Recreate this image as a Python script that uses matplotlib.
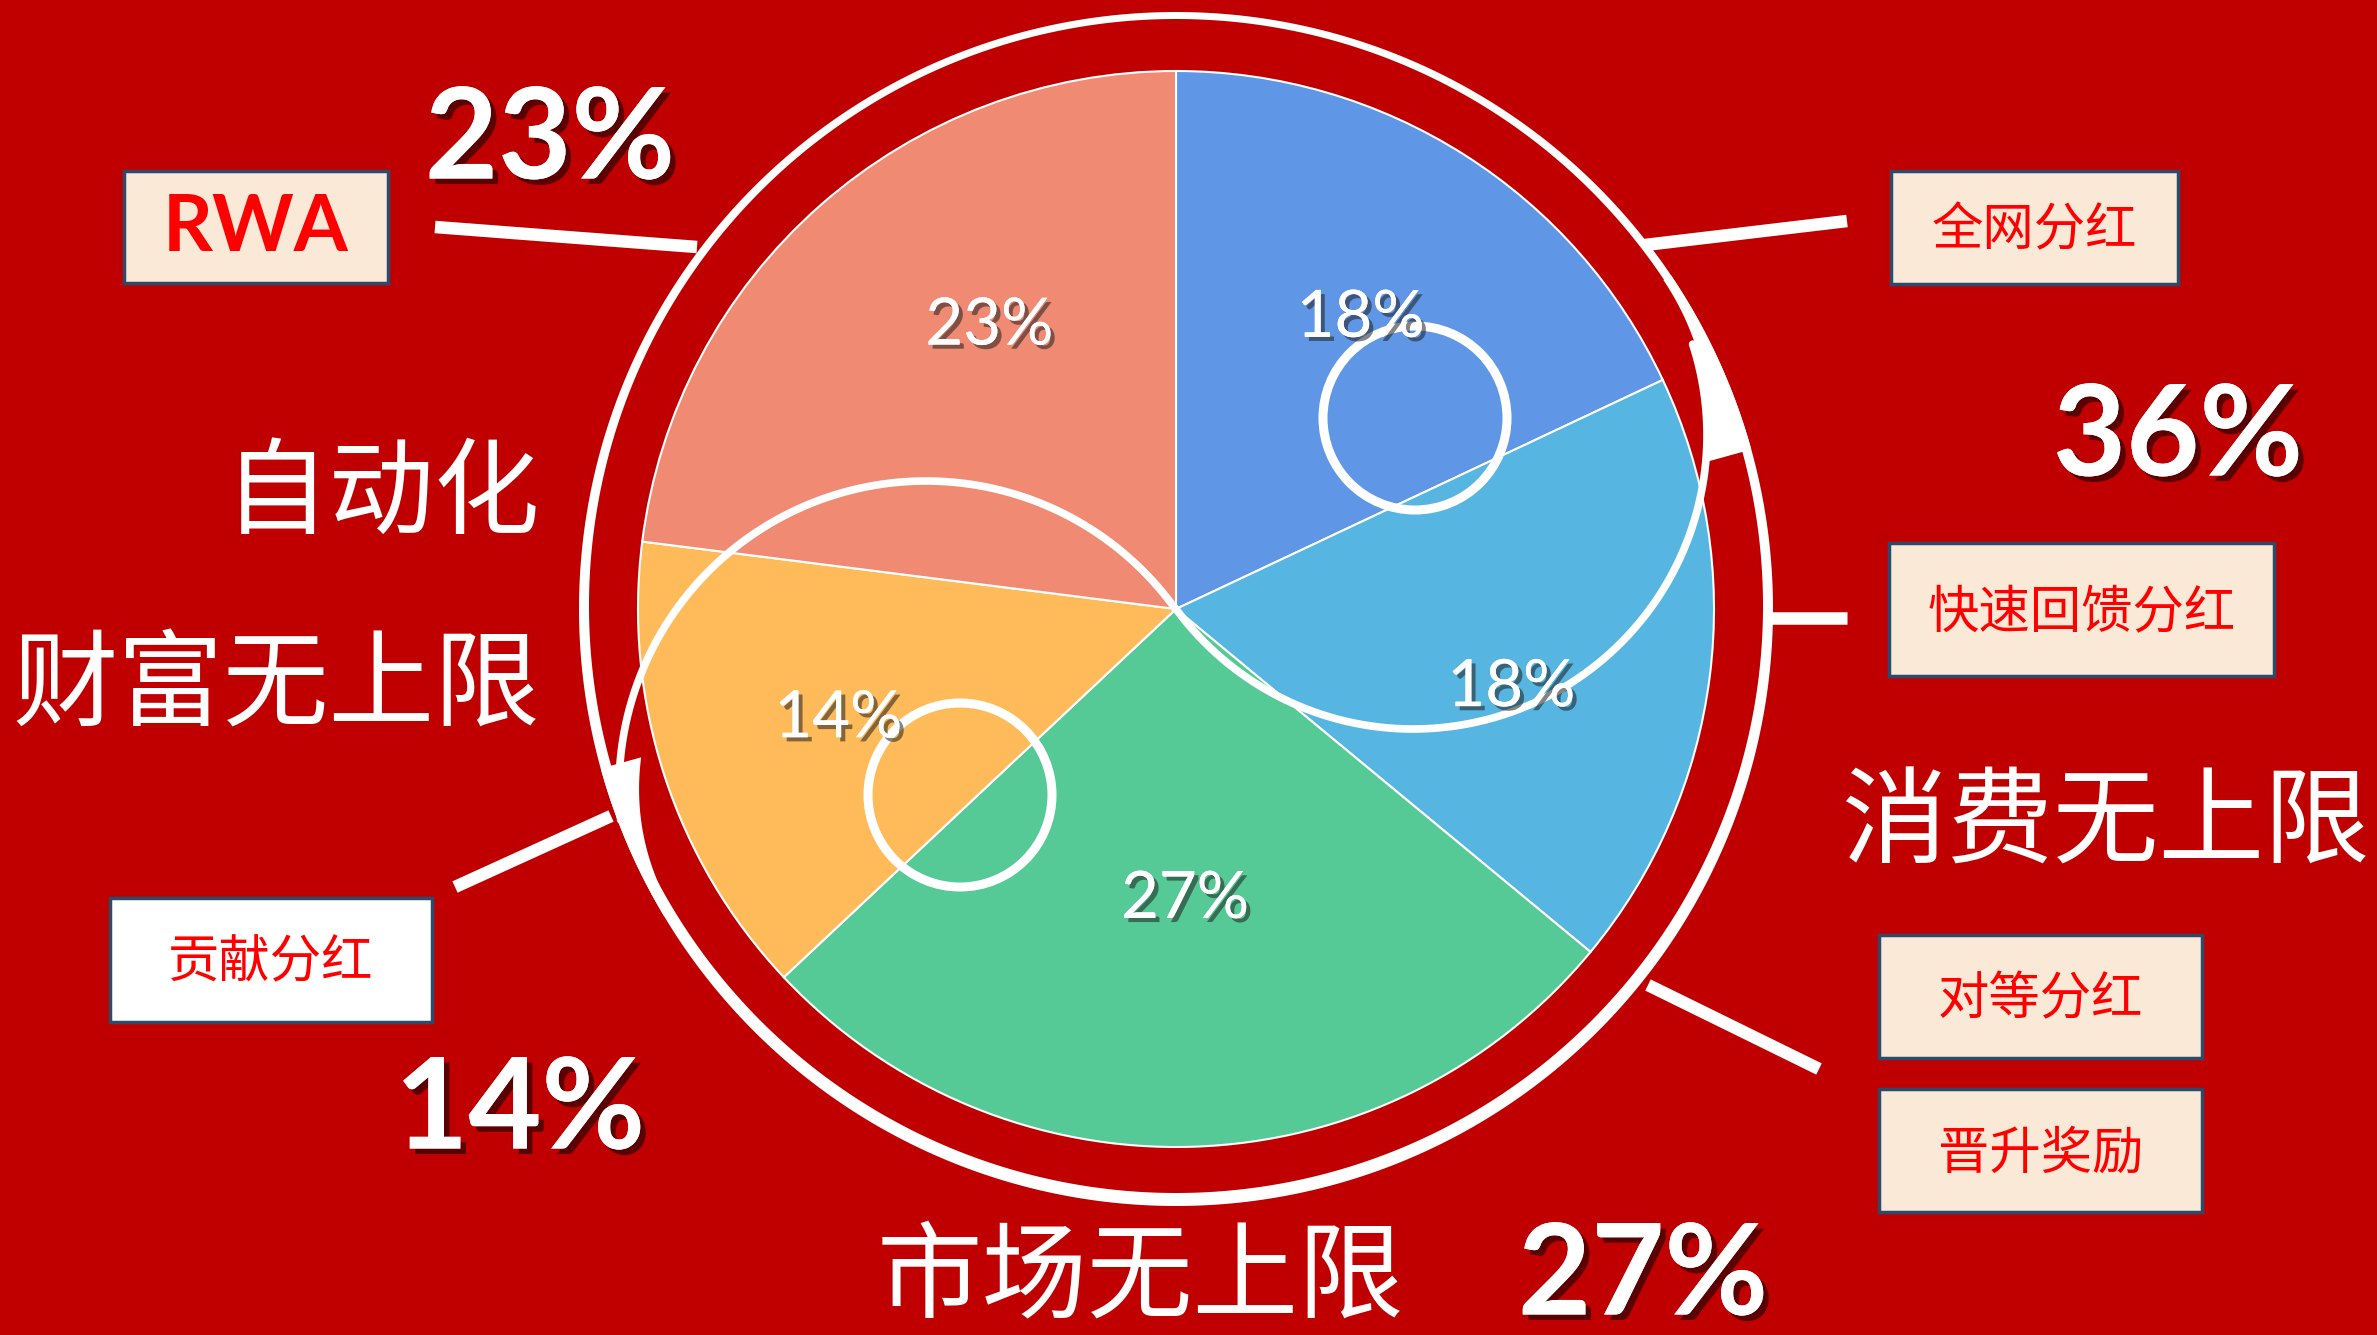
import numpy as np
import matplotlib
matplotlib.use("Agg")
import matplotlib.pyplot as plt
from matplotlib.patches import Rectangle, Circle, Polygon
import matplotlib.patheffects as pe

W, H = 2377, 1335
BG = '#C00000'

# pie slices, clockwise from 12 o'clock
shares = [18, 18, 27, 14, 23]
slice_colors = ['#6096E6', '#57B5E2', '#55C996', '#FFBA5A', '#F08A73']
label_dist = [0.64, 0.64, 0.54, 0.66, 0.63]
label_turn = [0, -6, 0, 0, -8]   # degrees, nudges the in-slice labels

# big percentages around the pie
big_pcts = ['23%', '36%', '14%', '27%']
big_pos = [(550, 142), (2178, 439), (520, 1112), (1643, 1278)]

# slogans
taglines = ['自动化', '财富无上限', '消费无上限', '市场无上限']
tag_pos = [(540, 496, 'right'), (540, 688, 'right'), (1842, 825, 'left'), (877, 1280, 'left')]

# label boxes: text, (x0, y0, x1, y1) in image pixels, face colour
box_labels = ['RWA', '全网分红', '快速回馈分红', '贡献分红', '对等分红', '晋升奖励']
box_rects = [(124, 171, 388, 283), (1891, 171, 2178, 284), (1889, 543, 2274, 676),
             (110, 898, 432, 1022), (1879, 935, 2202, 1058), (1879, 1089, 2202, 1212)]
box_faces = ['#FBE9D8', '#FBE9D8', '#FBE9D8', '#FFFFFF', '#FBE9D8', '#FBE9D8']

# leader lines (image pixels)
leaders = [((435, 227), (697, 247)), ((1645, 245), (1847, 221)),
           ((1766, 618), (1847, 618)), ((1648, 985), (1819, 1069)),
           ((455, 887), (611, 816))]

CX, CY = 1176, 609      # pie centre (image px)
R_PIE, R_RING = 538, 592


def Y(y):
    return H - y


fig = plt.figure(figsize=(W / 100, H / 100), dpi=100)
fig.patch.set_facecolor(BG)
ax = fig.add_axes([0, 0, 1, 1])
ax.set_facecolor(BG)

wedges, texts, autotexts = ax.pie(
    shares, colors=slice_colors, startangle=90, counterclock=False,
    radius=R_PIE, center=(CX, Y(CY)), autopct='%.0f%%',
    wedgeprops=dict(edgecolor='white', linewidth=1.5),
    textprops=dict(color='white', fontsize=47, family='Lato'))

shadow_small = [pe.withSimplePatchShadow(offset=(3, -3), shadow_rgbFace='#202020', alpha=0.55),
                pe.Normal()]
for w, t, d, dt in zip(wedges, autotexts, label_dist, label_turn):
    th = np.deg2rad((w.theta1 + w.theta2) / 2 + dt)
    t.set_position((CX + d * R_PIE * np.cos(th), Y(CY) + d * R_PIE * np.sin(th)))
    t.set_path_effects(shadow_small)
    t.set_zorder(6)

ax.set_xlim(0, W)
ax.set_ylim(0, H)
ax.set_aspect('auto')
ax.axis('off')


def annulus(t0, t1, r_out, width_fn, n=400):
    t = np.linspace(t0, t1, n)
    w = width_fn(t)
    tr = np.deg2rad(t)
    ri = r_out - w
    xo, yo = CX + r_out * np.cos(tr), Y(CY) + r_out * np.sin(tr)
    xi, yi = CX + ri * np.cos(tr), Y(CY) + ri * np.sin(tr)
    pts = np.c_[np.r_[xo, xi[::-1]], np.r_[yo, yi[::-1]]]
    ax.add_patch(Polygon(pts, closed=True, fc='white', ec='none', zorder=4))


# outer ring: thinner at the top, heavier at the bottom
annulus(0, 360, R_RING + 5, lambda t: 10 - 3 * np.sin(np.deg2rad(t)), n=720)

# S-shaped swirl through the centre
phi1 = np.deg2rad(np.linspace(186, 35.6, 200))
phi2 = np.deg2rad(np.linspace(216.3, 378, 200))
sx = np.r_[926 + 307 * np.cos(phi1), 1413 + 294 * np.cos(phi2)]
sy = np.r_[788 - 307 * np.sin(phi1), 435 - 294 * np.sin(phi2)]
ax.plot(sx, Y(sy), color='white', lw=5.5, zorder=4, solid_capstyle='round')


# tapered thickening where the swirl meets the ring
def taper(t0, t1, w0, w1):
    def fn(t):
        s = (t - t0) / (t1 - t0)
        return w1 + (w0 - w1) * (1 - s) ** 2
    annulus(t0, t1, R_RING + 5, fn, n=120)


taper(15.5, 34, 46, 9)
taper(195.5, 211, 42, 10)

# small circles
for cx, cy in [(1415, 418), (960, 795)]:
    ax.add_patch(Circle((cx, Y(cy)), 92, fill=False, ec='white', lw=6.5, zorder=5))

# leader lines
for (x1, y1), (x2, y2) in leaders:
    ax.plot([x1, x2], [Y(y1), Y(y2)], color='white', lw=9, solid_capstyle='butt', zorder=4)

# boxes
for lab, (x0, y0, x1, y1), fc in zip(box_labels, box_rects, box_faces):
    ax.add_patch(Rectangle((x0, Y(y1)), x1 - x0, y1 - y0, fc=fc, ec='#2E4A6B', lw=2.5, zorder=5))
    if lab == 'RWA':
        ax.text((x0 + x1) / 2, Y((y0 + y1) / 2 + 2), lab, color='#FF0000', fontsize=56,
                family='Lato', weight='bold', ha='center', va='center', zorder=6)
    else:
        ax.text((x0 + x1) / 2, Y((y0 + y1) / 2 + 3), lab, color='#FF0000', fontsize=37,
                family=['Noto Sans CJK SC', 'DejaVu Sans'], ha='center', va='center', zorder=6)

# big percentages
shadow_big = [pe.withSimplePatchShadow(offset=(4, -4), shadow_rgbFace='#4A0000', alpha=0.85),
              pe.Normal()]
for s, (x, y) in zip(big_pcts, big_pos):
    ax.text(x, Y(y), s, color='white', fontsize=91, family='Lato', weight='bold',
            ha='center', va='center', path_effects=shadow_big, zorder=6)

# slogans
for s, (x, y, ha) in zip(taglines, tag_pos):
    ax.text(x, Y(y), s, color='white', fontsize=76,
            family=['Noto Sans CJK SC', 'DejaVu Sans'], ha=ha, va='center', zorder=6)

fig.savefig('out.png', dpi=100, facecolor=BG)
